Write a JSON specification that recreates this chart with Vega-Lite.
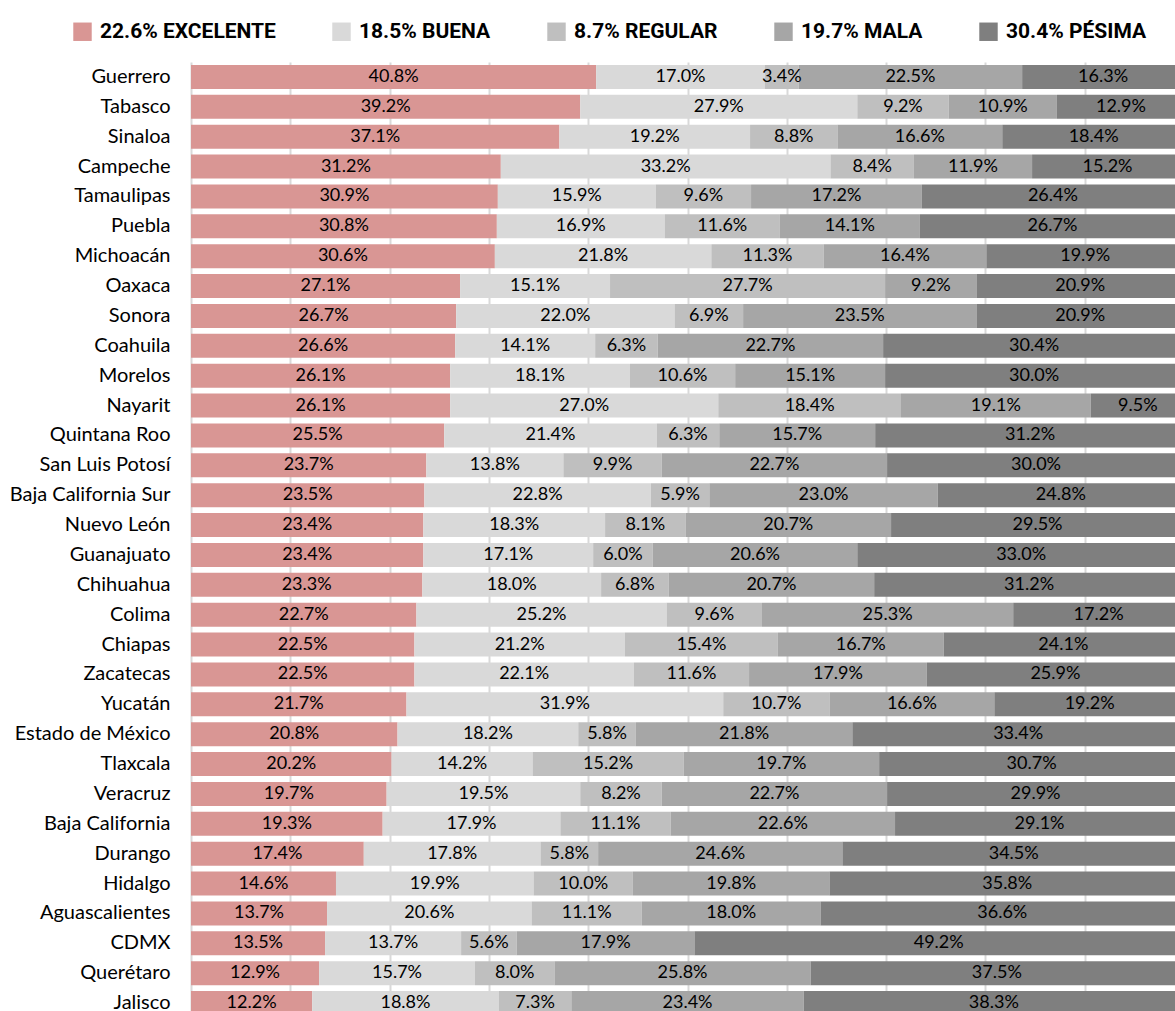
{
  "$schema": "https://vega.github.io/schema/vega-lite/v6.json",
  "autosize": {"type": "none"},
  "padding": {"left": 191, "top": 62, "right": 0, "bottom": 0},
  "width": 993,
  "height": 956,
  "background": "white",
  "config": {"view": {"stroke": null}, "font": "Lato"},
  "data": {
    "values": [
      {"estado": "Guerrero", "Excelente": 40.8, "Buena": 17.0, "Regular": 3.4, "Mala": 22.5, "Pésima": 16.3},
      {"estado": "Tabasco", "Excelente": 39.2, "Buena": 27.9, "Regular": 9.2, "Mala": 10.9, "Pésima": 12.9},
      {"estado": "Sinaloa", "Excelente": 37.1, "Buena": 19.2, "Regular": 8.8, "Mala": 16.6, "Pésima": 18.4},
      {"estado": "Campeche", "Excelente": 31.2, "Buena": 33.2, "Regular": 8.4, "Mala": 11.9, "Pésima": 15.2},
      {"estado": "Tamaulipas", "Excelente": 30.9, "Buena": 15.9, "Regular": 9.6, "Mala": 17.2, "Pésima": 26.4},
      {"estado": "Puebla", "Excelente": 30.8, "Buena": 16.9, "Regular": 11.6, "Mala": 14.1, "Pésima": 26.7},
      {"estado": "Michoacán", "Excelente": 30.6, "Buena": 21.8, "Regular": 11.3, "Mala": 16.4, "Pésima": 19.9},
      {"estado": "Oaxaca", "Excelente": 27.1, "Buena": 15.1, "Regular": 27.7, "Mala": 9.2, "Pésima": 20.9},
      {"estado": "Sonora", "Excelente": 26.7, "Buena": 22.0, "Regular": 6.9, "Mala": 23.5, "Pésima": 20.9},
      {"estado": "Coahuila", "Excelente": 26.6, "Buena": 14.1, "Regular": 6.3, "Mala": 22.7, "Pésima": 30.4},
      {"estado": "Morelos", "Excelente": 26.1, "Buena": 18.1, "Regular": 10.6, "Mala": 15.1, "Pésima": 30.0},
      {"estado": "Nayarit", "Excelente": 26.1, "Buena": 27.0, "Regular": 18.4, "Mala": 19.1, "Pésima": 9.5},
      {"estado": "Quintana Roo", "Excelente": 25.5, "Buena": 21.4, "Regular": 6.3, "Mala": 15.7, "Pésima": 31.2},
      {"estado": "San Luis Potosí", "Excelente": 23.7, "Buena": 13.8, "Regular": 9.9, "Mala": 22.7, "Pésima": 30.0},
      {"estado": "Baja California Sur", "Excelente": 23.5, "Buena": 22.8, "Regular": 5.9, "Mala": 23.0, "Pésima": 24.8},
      {"estado": "Nuevo León", "Excelente": 23.4, "Buena": 18.3, "Regular": 8.1, "Mala": 20.7, "Pésima": 29.5},
      {"estado": "Guanajuato", "Excelente": 23.4, "Buena": 17.1, "Regular": 6.0, "Mala": 20.6, "Pésima": 33.0},
      {"estado": "Chihuahua", "Excelente": 23.3, "Buena": 18.0, "Regular": 6.8, "Mala": 20.7, "Pésima": 31.2},
      {"estado": "Colima", "Excelente": 22.7, "Buena": 25.2, "Regular": 9.6, "Mala": 25.3, "Pésima": 17.2},
      {"estado": "Chiapas", "Excelente": 22.5, "Buena": 21.2, "Regular": 15.4, "Mala": 16.7, "Pésima": 24.1},
      {"estado": "Zacatecas", "Excelente": 22.5, "Buena": 22.1, "Regular": 11.6, "Mala": 17.9, "Pésima": 25.9},
      {"estado": "Yucatán", "Excelente": 21.7, "Buena": 31.9, "Regular": 10.7, "Mala": 16.6, "Pésima": 19.2},
      {"estado": "Estado de México", "Excelente": 20.8, "Buena": 18.2, "Regular": 5.8, "Mala": 21.8, "Pésima": 33.4},
      {"estado": "Tlaxcala", "Excelente": 20.2, "Buena": 14.2, "Regular": 15.2, "Mala": 19.7, "Pésima": 30.7},
      {"estado": "Veracruz", "Excelente": 19.7, "Buena": 19.5, "Regular": 8.2, "Mala": 22.7, "Pésima": 29.9},
      {"estado": "Baja California", "Excelente": 19.3, "Buena": 17.9, "Regular": 11.1, "Mala": 22.6, "Pésima": 29.1},
      {"estado": "Durango", "Excelente": 17.4, "Buena": 17.8, "Regular": 5.8, "Mala": 24.6, "Pésima": 34.5},
      {"estado": "Hidalgo", "Excelente": 14.6, "Buena": 19.9, "Regular": 10.0, "Mala": 19.8, "Pésima": 35.8},
      {"estado": "Aguascalientes", "Excelente": 13.7, "Buena": 20.6, "Regular": 11.1, "Mala": 18.0, "Pésima": 36.6},
      {"estado": "CDMX", "Excelente": 13.5, "Buena": 13.7, "Regular": 5.6, "Mala": 17.9, "Pésima": 49.2},
      {"estado": "Querétaro", "Excelente": 12.9, "Buena": 15.7, "Regular": 8.0, "Mala": 25.8, "Pésima": 37.5},
      {"estado": "Jalisco", "Excelente": 12.2, "Buena": 18.8, "Regular": 7.3, "Mala": 23.4, "Pésima": 38.3}
    ]
  },
  "transform": [
    {"fold": ["Excelente", "Buena", "Regular", "Mala", "Pésima"], "as": ["calidad", "pct"]},
    {"calculate": "indexof(['Excelente','Buena','Regular','Mala','Pésima'], datum.calidad)", "as": "orden"},
    {"stack": "pct", "groupby": ["estado"], "sort": [{"field": "orden", "order": "ascending"}], "as": ["x0", "x1"]},
    {"calculate": "(datum.x0 + datum.x1) / 2", "as": "xm"},
    {"calculate": "format(datum.pct, '.1f') + '%'", "as": "etiqueta"}
  ],
  "encoding": {
    "y": {
      "field": "estado",
      "type": "nominal",
      "sort": null,
      "scale": {"paddingInner": 0.2, "paddingOuter": 0.1},
      "axis": {
        "title": null,
        "domain": false,
        "ticks": false,
        "labelFont": "Lato",
        "labelFontSize": 20,
        "labelColor": "#000000",
        "labelPadding": 21,
        "labelLimit": 300
      }
    }
  },
  "layer": [
    {
      "mark": {"type": "bar"},
      "encoding": {
        "x": {
          "field": "x0",
          "type": "quantitative",
          "scale": {"domain": [0, 100], "nice": false},
          "axis": {
            "title": null,
            "labels": false,
            "ticks": false,
            "domain": false,
            "grid": true,
            "gridColor": "#d9d9d9",
            "gridWidth": 2,
            "values": [0, 10, 20, 30, 40, 50, 60, 70, 80, 90, 100]
          }
        },
        "x2": {"field": "x1"},
        "color": {
          "field": "calidad",
          "type": "nominal",
          "scale": {
            "domain": ["Excelente", "Buena", "Regular", "Mala", "Pésima"],
            "range": ["#d99694", "#d9d9d9", "#bfbfbf", "#a6a6a6", "#7f7f7f"]
          },
          "legend": {
            "title": null,
            "orient": "none",
            "legendX": -119,
            "legendY": -41,
            "direction": "horizontal",
            "symbolType": "square",
            "symbolSize": 340,
            "symbolStrokeWidth": 0,
            "labelFont": "Roboto",
            "labelFontWeight": "bold",
            "labelFontSize": 21,
            "labelColor": "#000000",
            "labelOffset": 7,
            "labelLimit": 400,
            "columnPadding": 55,
            "labelExpr": "{'Excelente':'22.6% EXCELENTE','Buena':'18.5% BUENA','Regular':'8.7% REGULAR','Mala':'19.7% MALA','Pésima':'30.4% PÉSIMA'}[datum.label]"
          }
        }
      }
    },
    {
      "mark": {"type": "text", "fontSize": 18, "font": "Lato", "baseline": "middle", "align": "center", "color": "#000000"},
      "encoding": {
        "x": {"field": "xm", "type": "quantitative"},
        "text": {"field": "etiqueta"}
      }
    }
  ]
}
